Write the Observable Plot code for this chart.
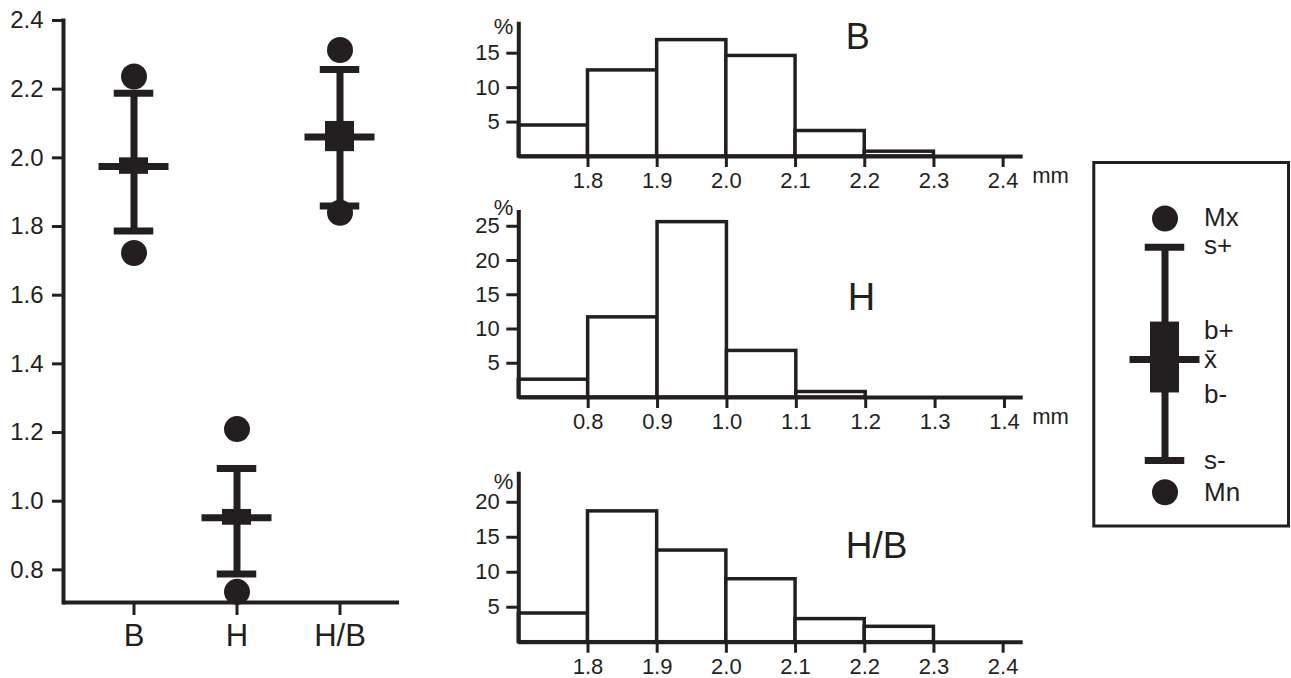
<!DOCTYPE html>
<html><head><meta charset="utf-8">
<script src="https://cdn.jsdelivr.net/npm/d3@7"></script>
<script src="https://cdn.jsdelivr.net/npm/@observablehq/plot@0.6"></script>
<style>
body{margin:0;background:#fff;}
#wrap{position:relative;width:1291px;height:678px;overflow:hidden;background:#fff;}
#wrap svg{position:absolute;}
</style></head><body><div id="wrap"></div>
<script>
const INK = "#231f20";
const FONT = "'Liberation Sans', Arial, Helvetica, sans-serif";

// ---- Summary statistics (left panel, mm) ----
const groups = ["B", "H", "H/B"];
const maxV   = [2.237, 1.210, 2.314];
const sPlus  = [2.188, 1.095, 2.257];
const bPlus  = [2.000, 0.976, 2.106];
const meanV  = [1.975, 0.952, 2.061];
const bMinus = [1.952, 0.930, 2.018];
const sMinus = [1.787, 0.788, 1.860];
const minV   = [1.723, 0.736, 1.840];
const yTicksLeft = [0.8, 1.0, 1.2, 1.4, 1.6, 1.8, 2.0, 2.2, 2.4];

// ---- Histograms (% per 0.1 mm class) ----
const edgesB  = [1.7, 1.8, 1.9, 2.0, 2.1, 2.2, 2.3];
const pctB    = [4.5, 12.5, 16.9, 14.6, 3.7, 0.7];
const edgesH  = [0.7, 0.8, 0.9, 1.0, 1.1, 1.2];
const pctH    = [2.6, 11.7, 25.6, 6.8, 0.8];
const edgesHB = [1.7, 1.8, 1.9, 2.0, 2.1, 2.2, 2.3];
const pctHB   = [4.1, 18.7, 13.1, 9.0, 3.3, 2.2];
const xTicksB  = [1.8, 1.9, 2.0, 2.1, 2.2, 2.3, 2.4];
const xTicksH  = [0.8, 0.9, 1.0, 1.1, 1.2, 1.3, 1.4];
const xTicksHB = [1.8, 1.9, 2.0, 2.1, 2.2, 2.3, 2.4];
const yTicksB  = [5, 10, 15];
const yTicksH  = [5, 10, 15, 20, 25];
const yTicksHB = [5, 10, 15, 20];

// ---- Legend ----
const legendKey    = ["key"];
const legendMax    = [84.6];
const legendSPlus  = [76.7];
const legendBPlus  = [56.1];
const legendMean   = [45.8];
const legendBMinus = [36.6];
const legendSMinus = [18.0];
const legendMin    = [9.3];
const legendLabels = ["Mx", "s+", "b+", "x\u0304", "b-", "s-", "Mn"];
const legendLabelY = [84.9, 77.0, 53.6, 45.8, 36.0, 18.0, 9.3];

const wrap = document.getElementById("wrap");
function place(svg, left, top) {
  svg.style.left = left + "px";
  svg.style.top = top + "px";
  wrap.appendChild(svg);
}
const baseStyle = {fontFamily: FONT, background: "transparent", overflow: "visible", color: INK};

function glyph(rows) {
  const s = {stroke: INK, strokeWidth: 7};
  return [
    Plot.ruleX(rows, {x: "g", y1: "sMinus", y2: "sPlus", ...s}),
    Plot.tickY(rows, {x: "g", y: "sPlus", ...s, insetLeft: 31.75, insetRight: 31.75}),
    Plot.tickY(rows, {x: "g", y: "sMinus", ...s, insetLeft: 31.75, insetRight: 31.75}),
    Plot.barY(rows, {x: "g", y1: "bMinus", y2: "bPlus", fill: INK, insetLeft: 37, insetRight: 37}),
    Plot.tickY(rows, {x: "g", y: "mean", ...s, insetLeft: 16.5, insetRight: 16.5}),
    Plot.dot(rows, {x: "g", y: "max", r: 13, fill: INK}),
    Plot.dot(rows, {x: "g", y: "min", r: 13, fill: INK})
  ];
}

// ---------- Left panel ----------
const stats = groups.map((g, i) => ({
  g, max: maxV[i], sPlus: sPlus[i], bPlus: bPlus[i], mean: meanV[i],
  bMinus: bMinus[i], sMinus: sMinus[i], min: minV[i]
}));
const left = Plot.plot({
  width: 420, height: 678,
  marginLeft: 63, marginRight: 21, marginTop: 20, marginBottom: 76,
  style: baseStyle,
  x: {type: "band", domain: groups, range: [63, 410], paddingInner: 0, paddingOuter: 0.176},
  y: {domain: [0.705, 2.4]},
  marks: [
    Plot.frame({anchor: "left", stroke: INK, strokeWidth: 4}),
    Plot.ruleY([0.705], {stroke: INK, strokeWidth: 4}),
    Plot.axisY({ticks: yTicksLeft, tickFormat: ".1f", tickSize: 11, tickPadding: 9,
      fontSize: 24, stroke: INK, strokeWidth: 3, label: null}),
    Plot.axisX({tickSize: 13, tickPadding: 8, fontSize: 31, stroke: INK, strokeWidth: 3, label: null}),
    ...glyph(stats)
  ]
});
place(left, 0, 0);

// ---------- Histograms ----------
function hist({edges, pct, xTicks, yTicks, xMax, yMax, top, height, mTop, mBottom, name, nameX, nameY, mm, pctDy, nameSize}) {
  const rows = pct.map((p, i) => ({x1: edges[i], x2: edges[i + 1], p}));
  const x0 = edges[0];
  const chart = Plot.plot({
    width: 620, height,
    marginLeft: 48.3, marginRight: 67.3, marginTop: mTop, marginBottom: mBottom,
    style: baseStyle,
    x: {domain: [x0, xMax]},
    y: {domain: [0, yMax]},
    marks: [
      Plot.rect(rows, {x1: "x1", x2: "x2", y1: 0, y2: "p", fill: "white", stroke: INK, strokeWidth: 3.5, strokeLinejoin: "miter"}),
      Plot.ruleY([0], {stroke: INK, strokeWidth: 4}),
      Plot.ruleX([x0], {stroke: INK, strokeWidth: 4}),
      Plot.axisX({ticks: xTicks, tickFormat: ".1f", tickSize: 11, tickPadding: 5, fontSize: 22, stroke: INK, strokeWidth: 3, label: null}),
      Plot.axisY({ticks: yTicks, tickSize: 12, tickPadding: 7, fontSize: 22, stroke: INK, strokeWidth: 3, label: null}),
      Plot.text(["%"], {frameAnchor: "top-left", dx: -25, dy: pctDy, fontSize: 22, fill: INK}),
      mm ? Plot.text(["mm"], {frameAnchor: "bottom-right", dx: 9, dy: 26, textAnchor: "start", fontSize: 22, fill: INK}) : null,
      Plot.text([name], {x: nameX, y: nameY, fontSize: nameSize, fill: INK})
    ]
  });
  place(chart, 470, top);
}

hist({edges: edgesB, pct: pctB, xTicks: xTicksB, yTicks: yTicksB, xMax: 2.429, yMax: 19.5,
  top: 0, height: 200, mTop: 21.7, mBottom: 44, name: "B", nameX: 2.19, nameY: 17.3, mm: true, pctDy: -4, nameSize: 36});
hist({edges: edgesH, pct: pctH, xTicks: xTicksH, yTicks: yTicksH, xMax: 1.427, yMax: 27.3,
  top: 200, height: 230, mTop: 10, mBottom: 33, name: "H", nameX: 1.194, nameY: 14.6, mm: true, pctDy: -11, nameSize: 38});
hist({edges: edgesHB, pct: pctHB, xTicks: xTicksHB, yTicks: yTicksHB, xMax: 2.429, yMax: 24.3,
  top: 440, height: 238, mTop: 31.7, mBottom: 36.3, name: "H/B", nameX: 2.217, nameY: 13.8, mm: false, pctDy: 1, nameSize: 37});

// ---------- Legend ----------
const legendRows = legendKey.map((g, i) => ({
  g, max: legendMax[i], sPlus: legendSPlus[i], bPlus: legendBPlus[i], mean: legendMean[i],
  bMinus: legendBMinus[i], sMinus: legendSMinus[i], min: legendMin[i]
}));
const legend = Plot.plot({
  width: 201, height: 370,
  marginLeft: 3.3, marginRight: 3, marginTop: 3, marginBottom: 3.5,
  style: baseStyle,
  x: {type: "band", domain: legendKey, range: [74 - 51.75, 74 + 51.75], padding: 0, axis: null},
  y: {domain: [0, 100], axis: null},
  marks: [
    Plot.frame({stroke: INK, strokeWidth: 3}),
    ...glyph(legendRows),
    Plot.text(legendLabels, {x: () => legendKey[0], y: (d, i) => legendLabelY[i], dx: 39,
      textAnchor: "start", fontSize: 26, fill: INK})
  ]
});
place(legend, 1090, 159);
</script></body></html>
